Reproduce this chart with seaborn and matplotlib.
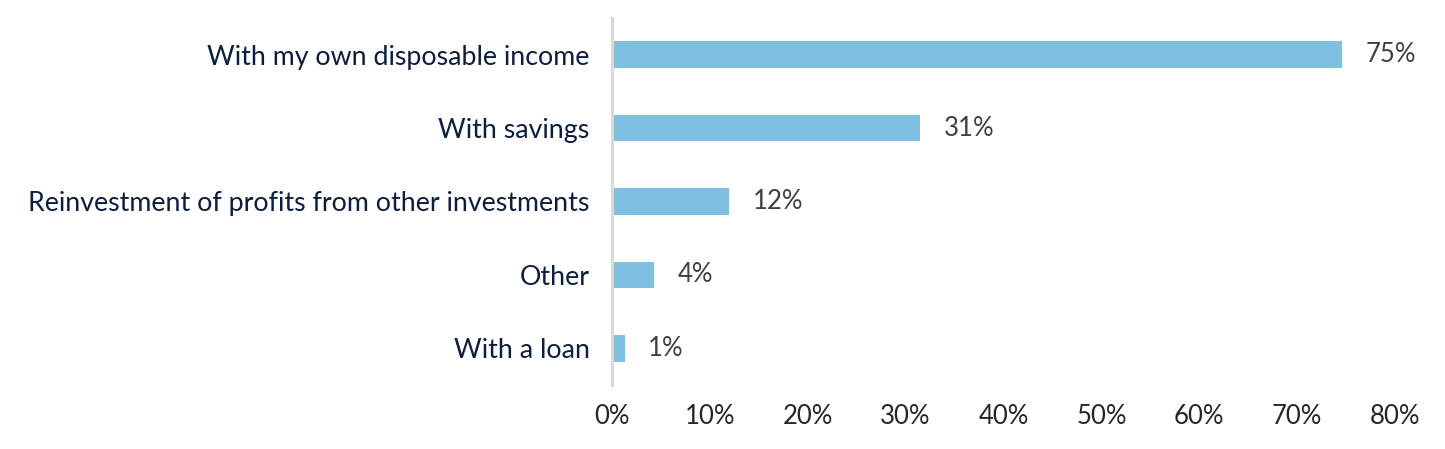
import matplotlib
matplotlib.use("Agg")
import matplotlib.pyplot as plt
import seaborn as sns
import pandas as pd

categories = ["With my own disposable income", "With savings",
              "Reinvestment of profits from other investments", "Other", "With a loan"]
values = [74.6, 31.5, 12.0, 4.3, 1.3]
value_labels = ["75%", "31%", "12%", "4%", "1%"]
x_ticks = [0, 10, 20, 30, 40, 50, 60, 70, 80]
x_tick_labels = ["0%", "10%", "20%", "30%", "40%", "50%", "60%", "70%", "80%"]

sns.set_theme(style="white")
plt.rcParams['font.family'] = ['Lato', 'DejaVu Sans']

df = pd.DataFrame({"category": categories, "value": values})

fig = plt.figure(figsize=(14.45, 4.49), dpi=100)
ax = fig.add_axes([0.4235, 0.1425, 0.9654 - 0.4235, 0.96 - 0.1425])
sns.barplot(data=df, x="value", y="category", color="#7FC0E0", width=0.36,
            saturation=1, ax=ax, edgecolor="none")

for i, (v, lab) in enumerate(zip(values, value_labels)):
    ax.annotate(lab, xy=(v, i), xytext=(17, 0), textcoords="offset points",
                ha="left", va="center", fontsize=18.5, color="#404040")

ax.set_xlim(0, 80)
ax.set_ylim(4.5, -0.5)
ax.set_xticks(x_ticks)
ax.set_xticklabels(x_tick_labels, fontsize=18.5, color="#262626")
ax.set_yticklabels(categories, fontsize=19.3, color="#0C1E3C")
ax.tick_params(axis="x", length=0, pad=14)
ax.tick_params(axis="y", length=0, pad=16)
ax.set_xlabel("")
ax.set_ylabel("")
for s in ["top", "right", "bottom"]:
    ax.spines[s].set_visible(False)
ax.spines["left"].set_color("#D9D9D9")
ax.spines["left"].set_linewidth(2.2)
ax.grid(False)

fig.savefig("out.png", dpi=100)
